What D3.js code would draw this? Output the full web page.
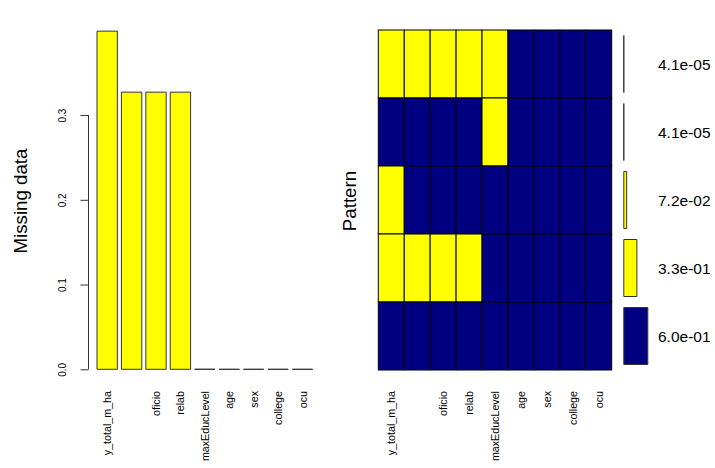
<!DOCTYPE html>
<html><head><meta charset="utf-8">
<script src="https://cdn.jsdelivr.net/npm/d3@7"></script>
<style>body{margin:0;background:#fff}svg{display:block}text{font-family:"Liberation Sans",Arial,sans-serif;fill:#000}</style>
</head><body><svg id="c" width="715" height="468"></svg>
<script>
const variables = ["y_total_m_ha", "", "oficio", "relab", "maxEducLevel", "age", "sex", "college", "ocu"];
const missingProp = [0.399, 0.327, 0.327, 0.327, 0.000082, 0, 0, 0, 0];
const yTicks = [0, 0.1, 0.2, 0.3];
const patterns = [
  [1,1,1,1,1,0,0,0,0],
  [0,0,0,0,1,0,0,0,0],
  [1,0,0,0,0,0,0,0,0],
  [1,1,1,1,0,0,0,0,0],
  [0,0,0,0,0,0,0,0,0]
];
const patternProp = [0.000041, 0.000041, 0.072, 0.327, 0.60];
const patternLabels = ["4.1e-05", "4.1e-05", "7.2e-02", "3.3e-01", "6.0e-01"];

const YEL = "#ffff00", NAVY = "#000080";
const svg = d3.select("#c");
const idx = d3.range(variables.length);

// ---- left barplot ----
const xL = d3.scaleBand().domain(idx).range([97, 312.7]).paddingInner(1/6).paddingOuter(0);
const yL = d3.scaleLinear().domain([0, 0.4]).range([369.3, 30.3]);
const gL = svg.append("g");
gL.selectAll("path.bar").data(idx).join("path").attr("class","bar")
  .attr("d", i => {
    const x0 = xL(i), x1 = xL(i) + xL.bandwidth(), y0 = yL(0), y1 = yL(missingProp[i]);
    return `M${x0},${y0}H${x1}V${y1}H${x0}Z`;
  })
  .attr("fill", YEL).attr("stroke", "#333").attr("stroke-width", 1);

const axL = d3.axisLeft(yL).tickValues(yTicks).tickSize(8).tickSizeOuter(0).tickFormat(d3.format(".1f"));
const ga = gL.append("g").attr("transform", "translate(88.5,0)").call(axL);
ga.select(".domain").attr("d", `M0,${yL(0)}V${yL(0.3)}`).attr("stroke","#333");
ga.selectAll(".tick line").attr("stroke","#333");
ga.selectAll(".tick text").attr("font-size", 10).attr("font-family", '"Liberation Sans",Arial,sans-serif')
  .attr("x", null).attr("dy", null)
  .attr("transform", "translate(-26,0) rotate(-90)").attr("text-anchor","middle").attr("dominant-baseline","central");

gL.selectAll("text.xl").data(idx).join("text").attr("class","xl")
  .attr("transform", i => `translate(${xL(i) + xL.bandwidth()/2},391) rotate(-90)`)
  .attr("text-anchor","end").attr("dominant-baseline","central").attr("font-size", 10.7)
  .text(i => variables[i]);

svg.append("text").attr("transform","translate(27,201) rotate(-90)").attr("text-anchor","middle")
  .attr("font-size", 18.7).text("Missing data");

// ---- right pattern grid ----
const xR = d3.scaleBand().domain(idx).range([378.3, 611.7]);
const rows = d3.range(patterns.length);
const yR = d3.scaleBand().domain(rows).range([30, 370]);
const gR = svg.append("g");
rows.forEach(r => {
  gR.selectAll(null).data(idx).join("rect")
    .attr("x", i => xR(i)).attr("y", yR(r))
    .attr("width", xR.bandwidth()).attr("height", yR.bandwidth())
    .attr("fill", i => patterns[r][i] ? YEL : NAVY)
    .attr("stroke", "#000").attr("stroke-width", 1);
});
gR.selectAll("text.xr").data(idx).join("text").attr("class","xr")
  .attr("transform", i => `translate(${xR(i) + xR.bandwidth()/2},391) rotate(-90)`)
  .attr("text-anchor","end").attr("dominant-baseline","central").attr("font-size", 10.7)
  .text(i => variables[i]);

svg.append("text").attr("transform","translate(355.5,201) rotate(-90)").attr("text-anchor","middle")
  .attr("font-size", 18.7).text("Pattern");

// proportion bars
const wP = d3.scaleLinear().domain([0, 1]).range([0, 40]);
const x0P = 623.8;
gR.selectAll("path.pb").data(rows).join("path").attr("class","pb")
  .attr("d", r => {
    const y0 = yR(r) + 5.5, y1 = yR(r) + yR.bandwidth() - 5.5, x1 = x0P + wP(patternProp[r]);
    return `M${x0P},${y0}H${x1}V${y1}H${x0P}Z`;
  })
  .attr("fill", r => r === patterns.length - 1 ? NAVY : YEL)
  .attr("stroke", "#333").attr("stroke-width", 1);
gR.selectAll("text.pl").data(rows).join("text").attr("class","pl")
  .attr("x", 658).attr("y", r => yR(r) + yR.bandwidth()/2)
  .attr("dominant-baseline","central").attr("font-size", 15.5)
  .text(r => patternLabels[r]);
</script></body></html>
